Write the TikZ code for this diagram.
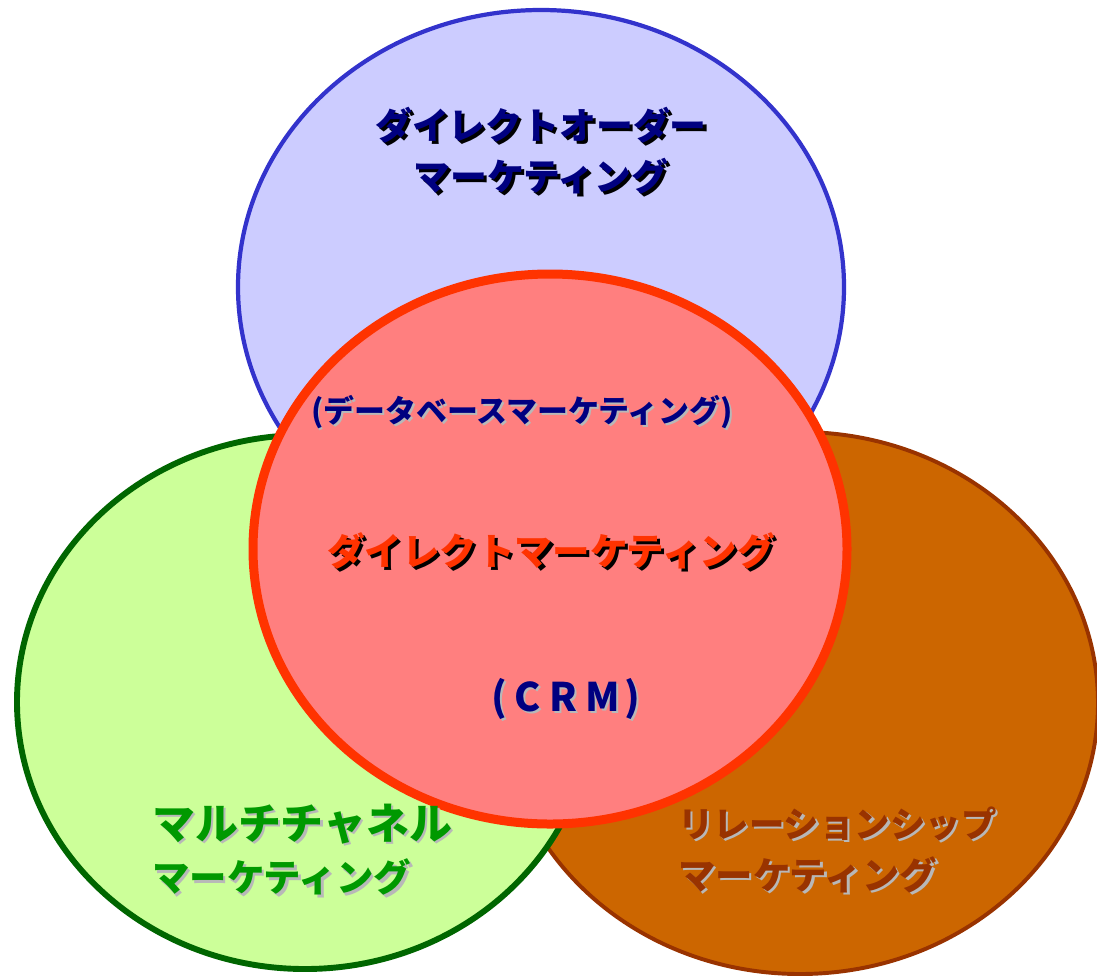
\documentclass[tikz,border=0pt]{standalone}
\usepackage{fontspec}
\setmainfont{Noto Sans CJK JP}
\usepackage{tikz}
\usetikzlibrary{positioning}
\definecolor{bluefill}{HTML}{CCCCFF}
\definecolor{blueline}{HTML}{3333CC}
\definecolor{greenfill}{HTML}{CCFF99}
\definecolor{greenline}{HTML}{006600}
\definecolor{greentext}{HTML}{009900}
\definecolor{brownfill}{HTML}{CC6600}
\definecolor{brownline}{HTML}{993300}
\definecolor{redfill}{HTML}{FF7F7F}
\definecolor{redline}{HTML}{FF3300}
\definecolor{navytext}{HTML}{000080}
\definecolor{lightshadow}{HTML}{B8B8B8}
\newcommand{\shd}[3][1.8pt]{\makebox[0pt][l]{\hspace{#1}\raisebox{-#1}{\color{#2}#3}}#3}
\tikzset{
  circ/.style={line width=#1},
  label/.style={inner sep=0pt, font=\bfseries\fontsize{#1}{1.4\dimexpr#1\relax}\selectfont},
  label/.default=26.6pt,
}
\begin{document}
\begin{tikzpicture}[x=0.025cm, y=-0.025cm]
\useasboundingbox (0,0) rectangle (1097,976);
\draw[circ=3pt, draw=blueline, fill=bluefill] (541,287) ellipse (303 and 277);
\draw[circ=2.8pt, draw=brownline, fill=brownfill] (800,703) ellipse (298 and 271);
\draw[circ=4.2pt, draw=greenline, fill=greenfill] (305,702) ellipse (288 and 267);
\draw[circ=6.4pt, draw=redline, fill=redfill] (550,549) ellipse (297 and 275);
\node[label=26.2pt, text=navytext, align=center] (order) at (541,152)
  {\shd[2.2pt]{black}{ダイレクトオーダー}\\\shd[2.2pt]{black}{マーケティング}};
\node[label=22pt, text=navytext] (database) at (522,413)
  {\shd[1.4pt]{lightshadow}{(データベースマーケティング)}};
\node[label=26.7pt, text=redline] (direct) at (551,552)
  {\shd[2.2pt]{black}{ダイレクトマーケティング}};
\node[label=28pt, text=navytext] (crm) at (566,700)
  {\shd[1.4pt]{lightshadow}{(\hspace{5pt}C\hspace{6pt}R\hspace{6pt}M\hspace{3pt})}};
\node[label, text=greentext, align=left, anchor=west] (multi) at (152,851)
  {{\fontsize{30.5pt}{35.4pt}\selectfont\shd[1.6pt]{lightshadow}{マルチチャネル}}\\
   \shd[1.6pt]{lightshadow}{マーケティング}};
\node[label, text=brownline, align=left, anchor=west] (relation) at (678,851)
  {{\fontsize{25.2pt}{35.4pt}\selectfont\shd[1.6pt]{lightshadow}{リレーションシップ}}\\
   \shd[1.6pt]{lightshadow}{マーケティング}};
\end{tikzpicture}
\end{document}
